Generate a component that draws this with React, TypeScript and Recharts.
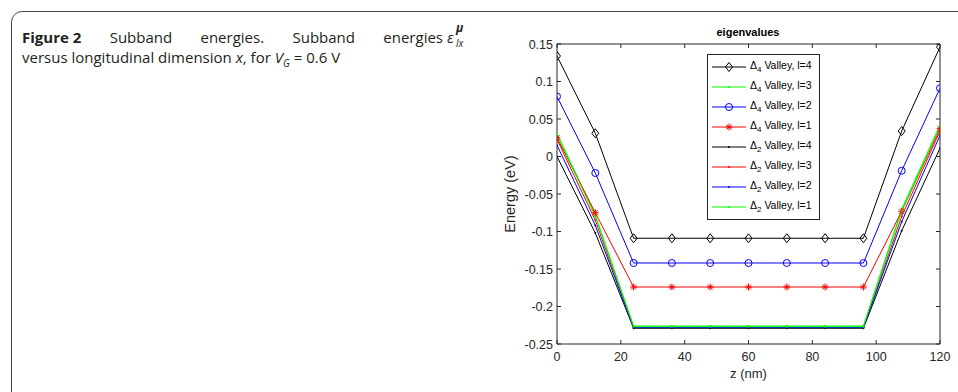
import { LineChart, Line, XAxis, YAxis, Legend } from "recharts";

// z positions (nm) of the computed points
const zNm = [0, 12, 24, 36, 48, 60, 72, 84, 96, 108, 120];

// subband energies (eV)
const d4l4 = [0.134, 0.031, -0.109, -0.109, -0.109, -0.109, -0.109, -0.109, -0.109, 0.034, 0.146];
const d4l3 = [0.031, -0.078, -0.226, -0.226, -0.226, -0.226, -0.226, -0.226, -0.226, -0.07, 0.042];
const d4l2 = [0.08, -0.022, -0.142, -0.142, -0.142, -0.142, -0.142, -0.142, -0.142, -0.019, 0.091];
const d4l1 = [0.025, -0.075, -0.174, -0.174, -0.174, -0.174, -0.174, -0.174, -0.174, -0.073, 0.037];
const d2l4 = [0.0, -0.102, -0.229, -0.229, -0.229, -0.229, -0.229, -0.229, -0.229, -0.099, 0.011];
const d2l3 = [0.023, -0.085, -0.228, -0.228, -0.228, -0.228, -0.228, -0.228, -0.228, -0.08, 0.034];
const d2l2 = [0.015, -0.092, -0.228, -0.228, -0.228, -0.228, -0.228, -0.228, -0.228, -0.087, 0.028];
const d2l1 = [0.029, -0.08, -0.227, -0.227, -0.227, -0.227, -0.227, -0.227, -0.227, -0.073, 0.04];

const xTicks = [0, 20, 40, 60, 80, 100, 120];
const yTicks = [-0.25, -0.2, -0.15, -0.1, -0.05, 0, 0.05, 0.1, 0.15];
const yTickLabels = ["-0.25", "-0.2", "-0.15", "-0.1", "-0.05", "0", "0.05", "0.1", "0.15"];

type Shape = "diamond" | "point" | "circle" | "star";

interface Series {
  key: string;
  valley: string;
  level: number;
  color: string;
  shape: Shape;
  values: number[];
}

const series: Series[] = [
  { key: "d4l4", valley: "4", level: 4, color: "#000000", shape: "diamond", values: d4l4 },
  { key: "d4l3", valley: "4", level: 3, color: "#00ff00", shape: "point", values: d4l3 },
  { key: "d4l2", valley: "4", level: 2, color: "#0000ff", shape: "circle", values: d4l2 },
  { key: "d4l1", valley: "4", level: 1, color: "#ff0000", shape: "star", values: d4l1 },
  { key: "d2l4", valley: "2", level: 4, color: "#000000", shape: "point", values: d2l4 },
  { key: "d2l3", valley: "2", level: 3, color: "#ff0000", shape: "point", values: d2l3 },
  { key: "d2l2", valley: "2", level: 2, color: "#0000ff", shape: "point", values: d2l2 },
  { key: "d2l1", valley: "2", level: 1, color: "#00ff00", shape: "point", values: d2l1 },
];

const data = zNm.map((z, i) => {
  const row: Record<string, number> = { z };
  series.forEach((s) => {
    row[s.key] = s.values[i];
  });
  return row;
});

const AXIS = "#262626";
const FONT = "Arial, 'Liberation Sans', sans-serif";
const CAPTION_FONT = "'Open Sans', 'Noto Sans', sans-serif";

function Marker({ cx, cy, shape, color }: { cx: number; cy: number; shape: Shape; color: string }) {
  if (cx == null || cy == null) return null;
  if (shape === "diamond") {
    return (
      <polygon
        points={`${cx},${cy - 4.5} ${cx + 3.5},${cy} ${cx},${cy + 4.5} ${cx - 3.5},${cy}`}
        fill="none"
        stroke={color}
        strokeWidth={1}
      />
    );
  }
  if (shape === "circle") {
    return <circle cx={cx} cy={cy} r={3.5} fill="none" stroke={color} strokeWidth={1} />;
  }
  if (shape === "star") {
    const r = 3.5;
    const d = 2.5;
    return (
      <g stroke={color} strokeWidth={1}>
        <line x1={cx - r} x2={cx + r} y1={cy} y2={cy} />
        <line x1={cx} x2={cx} y1={cy - r} y2={cy + r} />
        <line x1={cx - d} x2={cx + d} y1={cy - d} y2={cy + d} />
        <line x1={cx - d} x2={cx + d} y1={cy + d} y2={cy - d} />
      </g>
    );
  }
  return <circle cx={cx} cy={cy} r={1} fill={color} stroke="none" />;
}

const BottomTick = (props: any) => {
  const { x, y, payload } = props;
  return (
    <g>
      <line x1={x} x2={x} y1={y} y2={y - 4} stroke={AXIS} />
      <text x={x} y={y + 17} textAnchor="middle" fontSize={12.5} fill={AXIS} fontFamily={FONT}>
        {payload.value}
      </text>
    </g>
  );
};

const TopTick = (props: any) => {
  const { x, y } = props;
  return <line x1={x} x2={x} y1={y} y2={y + 4} stroke={AXIS} />;
};

const LeftTick = (props: any) => {
  const { x, y, payload } = props;
  const idx = yTicks.indexOf(payload.value);
  const label = idx >= 0 ? yTickLabels[idx] : String(payload.value);
  return (
    <g>
      <line x1={x} x2={x + 4} y1={y} y2={y} stroke={AXIS} />
      <text x={x - 4} y={y + 4.5} textAnchor="end" fontSize={12.5} fill={AXIS} fontFamily={FONT}>
        {label}
      </text>
    </g>
  );
};

const RightTick = (props: any) => {
  const { x, y } = props;
  return <line x1={x} x2={x - 4} y1={y} y2={y} stroke={AXIS} />;
};

function LegendBox() {
  return (
    <div
      style={{
        border: `1px solid ${AXIS}`,
        background: "#fff",
        width: 111,
        padding: "2px 0",
        fontFamily: FONT,
        fontSize: 10.5,
        color: "#000",
      }}
    >
      {series.map((s) => (
        <div key={s.key} style={{ display: "flex", alignItems: "center", height: 20 }}>
          <svg width={40} height={12} style={{ marginLeft: 2 }}>
            <line x1={2} x2={36} y1={6} y2={6} stroke={s.color} strokeWidth={1} />
            <Marker cx={19} cy={6} shape={s.shape} color={s.color} />
          </svg>
          <span>
            {"\u0394"}
            <sub style={{ fontSize: 8 }}>{s.valley}</sub> Valley, l={s.level}
          </span>
        </div>
      ))}
    </div>
  );
}

const captionLine = {
  position: "absolute" as const,
  top: 27,
  height: 20,
  lineHeight: "20px",
  fontFamily: CAPTION_FONT,
  fontSize: 15,
  color: "#231f20",
  whiteSpace: "nowrap" as const,
};

export default function App() {
  return (
    <div
      style={{
        position: "absolute",
        left: 0,
        top: 0,
        width: 958,
        height: 392,
        overflow: "hidden",
        background: "#fff",
      }}
    >
      <div
        style={{
          position: "absolute",
          left: 11,
          top: 11,
          width: 1000,
          height: 440,
          border: "1.5px solid #4a4a4a",
          borderRadius: 11,
        }}
      />
      <div style={{ ...captionLine, left: 22, width: 421, textAlign: "justify", textAlignLast: "justify" }}>
        <b style={{ display: "inline-block" }}>Figure 2</b> Subband energies. Subband energies
      </div>
      <div style={{ ...captionLine, left: 447, fontStyle: "italic" }}>
        ε
        <span style={{ position: "absolute", left: 9, top: -9, fontSize: 12, fontWeight: 700 }}>μ</span>
        <span style={{ position: "absolute", left: 9, top: 6, fontSize: 10 }}>lx</span>
      </div>
      <div style={{ ...captionLine, left: 22, top: 47 }}>
        versus longitudinal dimension <i>x</i>, for <i>V</i>
        <span style={{ fontSize: 10, position: "relative", top: 4 }}>
          <i>G</i>
        </span>{" "}
        = 0.6 V
      </div>

      <div
        style={{
          position: "absolute",
          left: 748 - 60,
          top: 26,
          width: 120,
          textAlign: "center",
          fontFamily: FONT,
          fontWeight: "bold",
          fontSize: 11,
          color: "#000",
        }}
      >
        eigenvalues
      </div>

      <div style={{ position: "absolute", left: 480, top: 0 }}>
        <LineChart
          width={478}
          height={392}
          data={data}
          margin={{ top: 43, right: 17, left: 0, bottom: 0 }}
        >
          <XAxis
            dataKey="z"
            type="number"
            domain={[0, 120]}
            ticks={xTicks}
            allowDataOverflow
            height={48}
            tickSize={0}
            tickMargin={0}
            tickLine={false}
            stroke={AXIS}
            tick={<BottomTick />}
            label={{
              value: "z (nm)",
              position: "insideBottom",
              offset: 14,
              fontSize: 13,
              fill: AXIS,
              fontFamily: FONT,
            }}
          />
          <XAxis
            xAxisId="top"
            dataKey="z"
            type="number"
            orientation="top"
            domain={[0, 120]}
            ticks={xTicks}
            allowDataOverflow
            height={1}
            tickSize={0}
            tickMargin={0}
            tickLine={false}
            stroke={AXIS}
            tick={<TopTick />}
          />
          <YAxis
            type="number"
            domain={[-0.25, 0.15]}
            ticks={yTicks}
            allowDataOverflow
            width={77}
            tickSize={0}
            tickMargin={0}
            tickLine={false}
            stroke={AXIS}
            tick={<LeftTick />}
            label={{
              value: "Energy (eV)",
              angle: -90,
              position: "insideLeft",
              offset: 30,
              fontSize: 14.5,
              fill: AXIS,
              fontFamily: FONT,
              style: { textAnchor: "middle" },
            }}
          />
          <YAxis
            yAxisId="right"
            type="number"
            orientation="right"
            domain={[-0.25, 0.15]}
            ticks={yTicks}
            allowDataOverflow
            width={1}
            tickSize={0}
            tickMargin={0}
            tickLine={false}
            stroke={AXIS}
            tick={<RightTick />}
          />
          <Legend
            layout="vertical"
            align="center"
            verticalAlign="middle"
            wrapperStyle={{ left: 227, top: 54, width: "auto", height: "auto" }}
            content={() => <LegendBox />}
          />
          {series.map((s) => (
            <Line
              key={s.key}
              dataKey={s.key}
              type="linear"
              stroke={s.color}
              strokeWidth={1}
              isAnimationActive={false}
              dot={(p: any) => (
                <Marker key={`${s.key}-${p.index}`} cx={p.cx} cy={p.cy} shape={s.shape} color={s.color} />
              )}
              activeDot={false}
            />
          ))}
        </LineChart>
      </div>
    </div>
  );
}
